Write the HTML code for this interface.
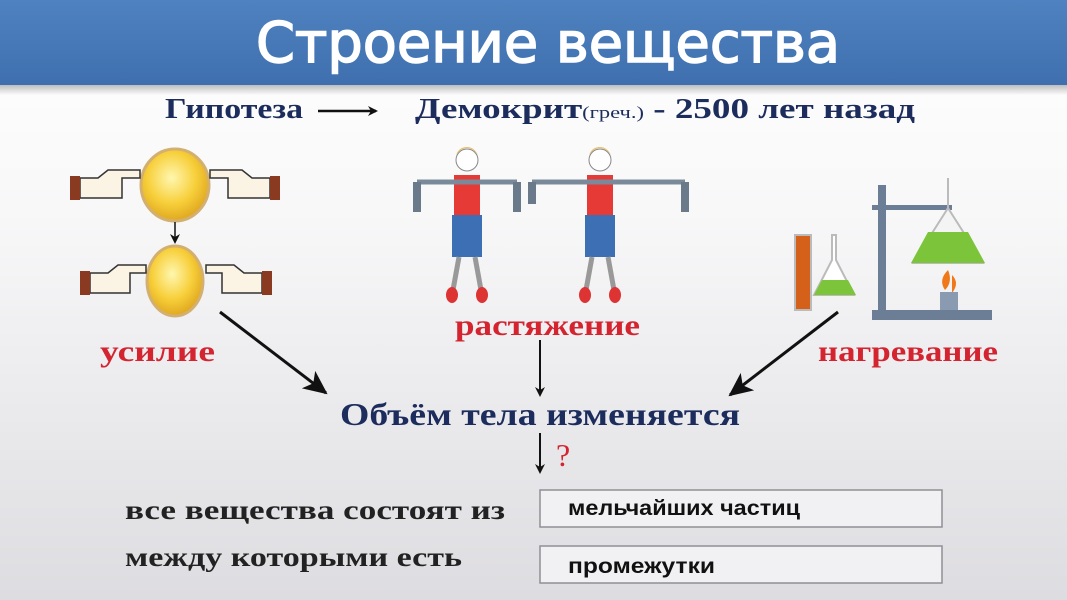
<!DOCTYPE html>
<html><head><meta charset="utf-8"><style>
html,body{margin:0;padding:0;width:1067px;height:600px;overflow:hidden;background:#fff}
svg{display:block}
.serif{font-family:"Liberation Serif","DejaVu Serif",serif;font-weight:bold}
.sans{font-family:"Liberation Sans","DejaVu Sans",sans-serif}
</style></head><body>
<svg width="1067" height="600" viewBox="0 0 1067 600" xmlns="http://www.w3.org/2000/svg">
<defs>
<linearGradient id="bg" x1="0" y1="0" x2="0" y2="1">
<stop offset="0" stop-color="#ffffff"/><stop offset="0.35" stop-color="#f8f8f9"/><stop offset="1" stop-color="#dddce0"/></linearGradient>
<linearGradient id="hd" x1="0" y1="0" x2="0" y2="1">
<stop offset="0" stop-color="#4f82c0"/><stop offset="1" stop-color="#3f6fae"/></linearGradient>
<radialGradient id="ball" cx="0.45" cy="0.4" r="0.6">
<stop offset="0" stop-color="#fff7b0"/><stop offset="0.6" stop-color="#f7cf3a"/><stop offset="1" stop-color="#e0a820"/></radialGradient>
<linearGradient id="shade" x1="0" y1="0" x2="0" y2="1"><stop offset="0" stop-color="#000" stop-opacity="0.25"/><stop offset="1" stop-color="#000" stop-opacity="0"/></linearGradient>
<marker id="ah" markerWidth="10" markerHeight="10" refX="8" refY="5" orient="auto" markerUnits="userSpaceOnUse"><path d="M0,0 L10,5 L0,10 L3,5 Z" fill="#111"/></marker>
<marker id="ahb" markerWidth="24" markerHeight="22" refX="22" refY="11" orient="auto" markerUnits="userSpaceOnUse"><path d="M0,0 L24,11 L0,22 L6,11 Z" fill="#111"/></marker>
</defs>
<rect width="1067" height="600" fill="url(#bg)"/>
<rect width="1067" height="85" fill="url(#hd)"/>
<rect y="85" width="1067" height="10" fill="url(#shade)"/>
<text x="256" y="62" textLength="584" lengthAdjust="spacingAndGlyphs" font-size="56" fill="#fff" stroke="#fff" stroke-width="1.5" style="font-family:'DejaVu Sans','Liberation Sans',sans-serif">Строение вещества</text>

<text x="165" y="118" textLength="138" lengthAdjust="spacingAndGlyphs" class="serif" font-size="28" fill="#1c2c5c">Гипотеза</text>
<line x1="318" y1="111" x2="376" y2="111" stroke="#111" stroke-width="2.5" marker-end="url(#ah)"/>
<text x="415" y="118" textLength="500" lengthAdjust="spacingAndGlyphs" class="serif" font-size="28" fill="#1c2c5c">Демокрит<tspan font-size="17" font-weight="normal">(греч.)</tspan> - 2500 лет назад</text>

<g stroke="#d4b070" stroke-width="3">
<ellipse cx="175" cy="185" rx="34" ry="36" fill="url(#ball)"/>
<ellipse cx="175" cy="281" rx="28" ry="35" fill="url(#ball)"/>
</g>
<line x1="175" y1="222" x2="175" y2="242" stroke="#111" stroke-width="1.5" marker-end="url(#ah)"/>
<g fill="#fbf3e4" stroke="#333" stroke-width="1.5">
<path d="M80,178 h18 l10,-8 h32 v8 h-18 v20 h-24 h-18z"/>
<path d="M270,178 h-18 l-10,-8 h-32 v8 h18 v20 h24 h18z"/>
<path d="M90,273 h18 l10,-8 h28 v8 h-16 v20 h-22 h-18z"/>
<path d="M262,273 h-18 l-10,-8 h-28 v8 h16 v20 h22 h18z"/>
</g>
<g fill="#8a3a20"><rect x="70" y="176" width="10" height="24"/><rect x="270" y="176" width="10" height="24"/><rect x="80" y="271" width="10" height="24"/><rect x="262" y="271" width="10" height="24"/></g>

<g transform="translate(467,0)">
<circle cx="0" cy="160" r="11" fill="#fff" stroke="#888"/><path d="M-11,155 q11,-14 22,0 q-4,-8 -11,-8 q-8,0 -11,8z" fill="#e8c070"/>
<rect x="-13" y="175" width="26" height="40" fill="#e53a35"/>
<rect x="-15" y="215" width="30" height="42" fill="#3d6fb5"/>
<line x1="-8" y1="257" x2="-14" y2="290" stroke="#999" stroke-width="5"/><line x1="8" y1="257" x2="14" y2="290" stroke="#999" stroke-width="5"/>
<ellipse cx="-15" cy="295" rx="6" ry="8" fill="#d33"/><ellipse cx="15" cy="295" rx="6" ry="8" fill="#d33"/>
<line x1="-50" y1="182" x2="50" y2="182" stroke="#7a8a9a" stroke-width="5"/>
<path d="M-50,182 v30" stroke="#6a7a8a" stroke-width="8"/><path d="M50,182 v30" stroke="#6a7a8a" stroke-width="8"/>
</g>
<g transform="translate(600,0)">
<circle cx="0" cy="160" r="11" fill="#fff" stroke="#888"/><path d="M-11,155 q11,-14 22,0 q-4,-8 -11,-8 q-8,0 -11,8z" fill="#e8c070"/>
<rect x="-13" y="175" width="26" height="40" fill="#e53a35"/>
<rect x="-15" y="215" width="30" height="42" fill="#3d6fb5"/>
<line x1="-8" y1="257" x2="-14" y2="290" stroke="#999" stroke-width="5"/><line x1="8" y1="257" x2="14" y2="290" stroke="#999" stroke-width="5"/>
<ellipse cx="-15" cy="295" rx="6" ry="8" fill="#d33"/><ellipse cx="15" cy="295" rx="6" ry="8" fill="#d33"/>
<line x1="-68" y1="182" x2="85" y2="182" stroke="#7a8a9a" stroke-width="5"/>
<path d="M-68,182 v22" stroke="#6a7a8a" stroke-width="8"/><path d="M85,182 v30" stroke="#6a7a8a" stroke-width="8"/>
</g>

<g>
<rect x="795" y="235" width="16" height="75" fill="#d4601a" stroke="#bbb" stroke-width="2"/>
<path d="M832,235 v25 l-18,35 h40 l-18,-35 v-25z" fill="#fff" stroke="#bbb" stroke-width="2"/>
<path d="M822,280 h26 l8,15 h-42z" fill="#7cc43a"/>
<rect x="878" y="185" width="8" height="135" fill="#6c7e96"/>
<rect x="872" y="310" width="120" height="10" fill="#6c7e96"/>
<rect x="872" y="205" width="80" height="5" fill="#6c7e96"/>
<path d="M948,178 v30 l-35,55 h70 l-35,-55 v-30z" fill="#f4f4f4" stroke="#bbb" stroke-width="2"/>
<path d="M928,232 h40 l17,31 h-74z" fill="#7cc43a"/>
<path d="M948,270 q-10,10 -3,20 q8,-8 3,-20z M952,275 q8,8 0,18z" fill="#f07818"/>
<rect x="940" y="292" width="18" height="18" fill="#8a9ab0"/>
</g>

<text x="100" y="361" textLength="115" lengthAdjust="spacingAndGlyphs" class="serif" font-size="30" fill="#d42430">усилие</text>
<text x="455" y="335" textLength="185" lengthAdjust="spacingAndGlyphs" class="serif" font-size="30" fill="#d42430">растяжение</text>
<text x="818" y="361" textLength="180" lengthAdjust="spacingAndGlyphs" class="serif" font-size="30" fill="#d42430">нагревание</text>

<line x1="220" y1="312" x2="326" y2="393" stroke="#111" stroke-width="3" marker-end="url(#ahb)"/>
<line x1="540" y1="340" x2="540" y2="395" stroke="#111" stroke-width="2" marker-end="url(#ah)"/>
<line x1="838" y1="312" x2="730" y2="395" stroke="#111" stroke-width="3" marker-end="url(#ahb)"/>

<text x="340" y="425" textLength="400" lengthAdjust="spacingAndGlyphs" class="serif" font-size="32" fill="#1c2c5c">Объём тела изменяется</text>
<line x1="540" y1="433" x2="540" y2="472" stroke="#111" stroke-width="2" marker-end="url(#ah)"/>
<text x="556" y="466" font-size="32" fill="#d42430" style="font-family:'Liberation Serif',serif">?</text>

<text x="125" y="519" textLength="380" lengthAdjust="spacingAndGlyphs" class="serif" font-size="27" fill="#222">все вещества состоят из</text>
<text x="125" y="566" textLength="337" lengthAdjust="spacingAndGlyphs" class="serif" font-size="27" fill="#222">между которыми есть</text>
<rect x="540" y="490" width="402" height="37" fill="#f1f0f3" stroke="#8f8f95" stroke-width="1.5"/>
<rect x="540" y="546" width="402" height="37" fill="#f1f0f3" stroke="#8f8f95" stroke-width="1.5"/>
<text x="568" y="515" textLength="232" lengthAdjust="spacingAndGlyphs" class="sans" font-size="21" font-weight="bold" fill="#111">мельчайших частиц</text>
<text x="568" y="573" textLength="147" lengthAdjust="spacingAndGlyphs" class="sans" font-size="21" font-weight="bold" fill="#111">промежутки</text>
</svg>
</body></html>
